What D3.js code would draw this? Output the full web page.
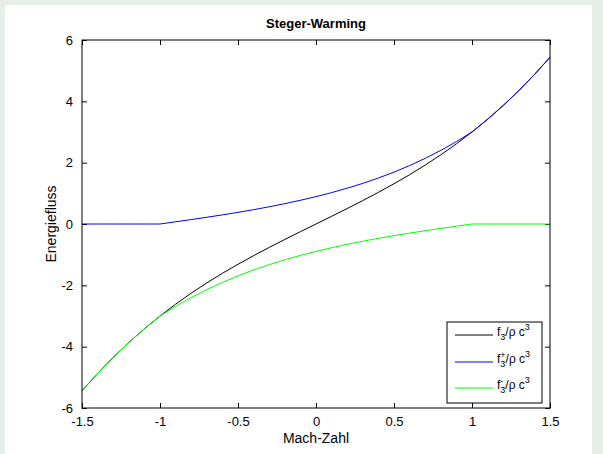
<!DOCTYPE html>
<html><head><meta charset="utf-8">
<script src="https://cdn.jsdelivr.net/npm/d3@7"></script>
<style>
html,body{margin:0;padding:0;background:#e5efe5;}
svg{display:block;}
text{font-family:"Liberation Sans",Arial,Helvetica,sans-serif;}
</style></head><body>
<svg id="chart" width="603" height="454"></svg>
<script>
const machZahl = [-1.5,-1.4,-1.3,-1.2,-1.1,-1.0,-0.9,-0.8,-0.7,-0.6,-0.5,-0.4,-0.3,-0.2,-0.1,0,0.1,0.2,0.3,0.4,0.5,0.6,0.7,0.8,0.9,1.0,1.1,1.2,1.3,1.4,1.5];
const fGesamt = [-5.4375,-4.872,-4.3485,-3.864,-3.4155,-3.0,-2.6145,-2.256,-1.9215,-1.608,-1.3125,-1.032,-0.7635,-0.504,-0.2505,0,0.2505,0.504,0.7635,1.032,1.3125,1.608,1.9215,2.256,2.6145,3.0,3.4155,3.864,4.3485,4.872,5.4375];
const fPlus = [0,0,0,0,0,0,0.0716,0.1443,0.2191,0.2971,0.3795,0.4671,0.5613,0.6629,0.7730,0.8929,1.0235,1.1669,1.3248,1.4991,1.6920,1.9051,2.1406,2.4003,2.6861,3.0,3.4155,3.864,4.3485,4.872,5.4375];
const fMinus = [-5.4375,-4.872,-4.3485,-3.864,-3.4155,-3.0,-2.6861,-2.4003,-2.1406,-1.9051,-1.6920,-1.4991,-1.3248,-1.1669,-1.0235,-0.8929,-0.7730,-0.6629,-0.5613,-0.4671,-0.3795,-0.2971,-0.2191,-0.1443,-0.0716,0,0,0,0,0,0];
const xTicks = [-1.5,-1,-0.5,0,0.5,1,1.5];
const yTicks = [-6,-4,-2,0,2,4,6];
const seriesNames = [["f","","3"],["f","+","3"],["f","-","3"]];
const seriesColors = ["#000000","#0000ff","#00ff00"];
const seriesData = [fGesamt,fPlus,fMinus];

const svg = d3.select("#chart");
svg.append("rect").attr("x",5).attr("y",5).attr("width",587).attr("height",449).attr("fill","#ffffff");

const L=82,R=550,T=40,B=408;
const x = d3.scaleLinear().domain([-1.5,1.5]).range([L,R]);
const y = d3.scaleLinear().domain([-6,6]).range([B,T]);

const fmt = d => String(d);
const tickLen = 5;
const gb = svg.append("g").attr("transform",`translate(0,${B})`)
  .call(d3.axisBottom(x).tickValues(xTicks).tickFormat(fmt).tickSizeInner(-tickLen).tickSizeOuter(0).tickPadding(9));
const gt = svg.append("g").attr("transform",`translate(0,${T})`)
  .call(d3.axisTop(x).tickValues(xTicks).tickFormat("").tickSizeInner(-tickLen).tickSizeOuter(0));
const gl = svg.append("g").attr("transform",`translate(${L},0)`)
  .call(d3.axisLeft(y).tickValues(yTicks).tickFormat(fmt).tickSizeInner(-tickLen).tickSizeOuter(0).tickPadding(9));
const gr = svg.append("g").attr("transform",`translate(${R},0)`)
  .call(d3.axisRight(y).tickValues(yTicks).tickFormat("").tickSizeInner(-tickLen).tickSizeOuter(0));
[gb,gt,gl,gr].forEach(g=>{
  g.select(".domain").remove();
  g.selectAll("line").attr("stroke","#000");
  g.selectAll("text").attr("font-size",13).attr("fill","#000").attr("font-family","'Liberation Sans',Arial,sans-serif");
});

const line = d3.line().x((d,i)=>x(machZahl[i])).y(d=>y(d));
seriesData.forEach((s,k)=>{
  svg.append("path").datum(s).attr("d",line).attr("fill","none")
    .attr("stroke",seriesColors[k]).attr("stroke-width",1);
});

svg.append("rect").attr("x",L).attr("y",T).attr("width",R-L).attr("height",B-T)
  .attr("fill","none").attr("stroke","#000").attr("stroke-width",1);

svg.append("text").attr("x",(L+R)/2).attr("y",28).attr("text-anchor","middle")
  .attr("font-size",13).attr("font-weight","bold").text("Steger-Warming");
svg.append("text").attr("x",(L+R)/2).attr("y",443).attr("text-anchor","middle")
  .attr("font-size",14).text("Mach-Zahl");
svg.append("text").attr("transform",`translate(56,${(T+B)/2}) rotate(-90)`).attr("text-anchor","middle")
  .attr("font-size",14).text("Energiefluss");

// legend
const lg = svg.append("g");
lg.append("rect").attr("x",447).attr("y",322).attr("width",95).attr("height",81)
  .attr("fill","#fff").attr("stroke","#000").attr("stroke-width",1);
const rowY = [335,362,388];
seriesNames.forEach((nm,k)=>{
  lg.append("line").attr("x1",455).attr("x2",493).attr("y1",rowY[k]).attr("y2",rowY[k])
    .attr("stroke",seriesColors[k]).attr("stroke-width",1);
  let xp = 497;
  const base = rowY[k]+1;
  const t1 = lg.append("text").attr("x",xp).attr("y",base).attr("font-size",12).text(nm[0]);
  xp += t1.node().getComputedTextLength();
  let w = 0;
  if(nm[1]){
    const ts = lg.append("text").attr("x",xp).attr("y",base-5).attr("font-size",9).text(nm[1]);
    w = Math.max(w, ts.node().getComputedTextLength());
  }
  const tb = lg.append("text").attr("x",xp).attr("y",base+4).attr("font-size",9).text(nm[2]);
  w = Math.max(w, tb.node().getComputedTextLength());
  xp += w;
  const t2 = lg.append("text").attr("x",xp).attr("y",base).attr("font-size",12).text("/\u03c1 c");
  xp += t2.node().getComputedTextLength();
  lg.append("text").attr("x",xp).attr("y",base-6).attr("font-size",9).text("3");
});
</script>
</body></html>
